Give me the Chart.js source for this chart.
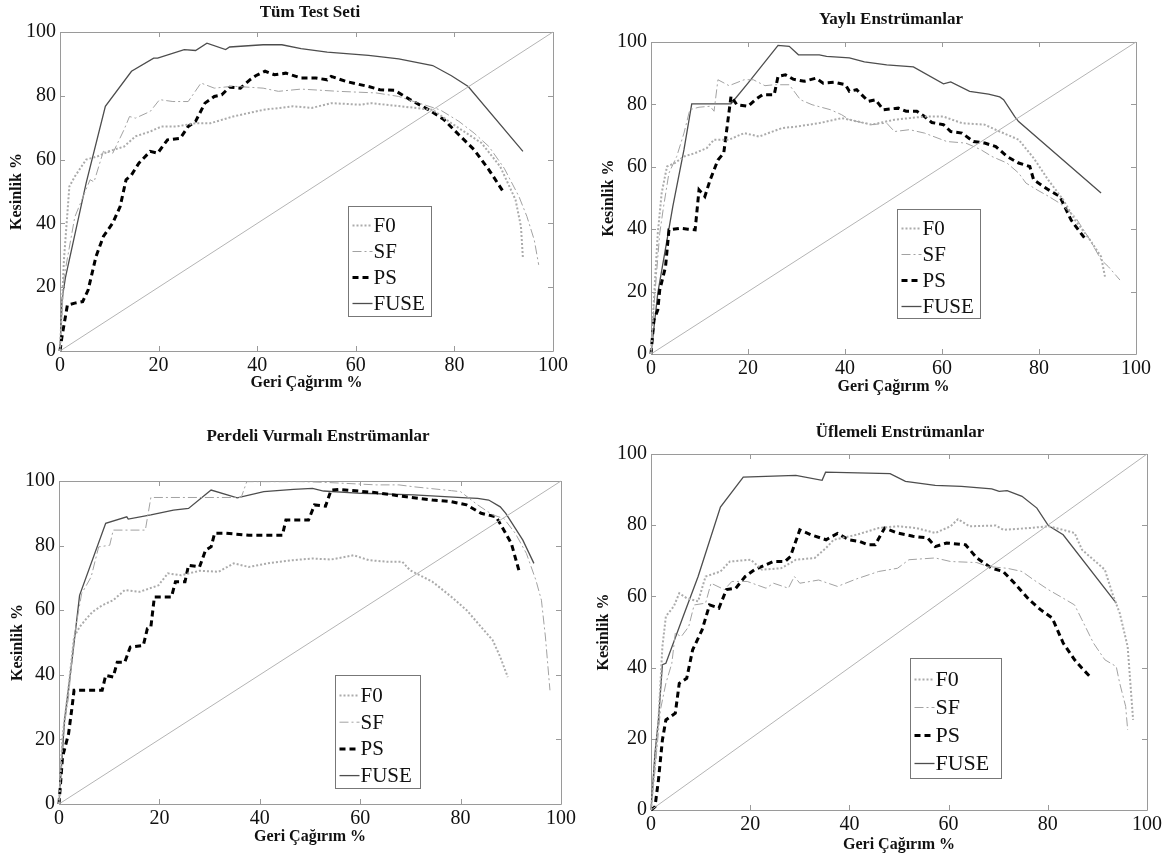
<!DOCTYPE html>
<html>
<head>
<meta charset="utf-8">
<title>Kesinlik / Geri Çağırım</title>
<script src="https://cdn.jsdelivr.net/npm/chart.js@4.4.1/dist/chart.umd.min.js"></script>
<style>
  html, body { margin: 0; padding: 0; background: #fff; }
  #wrap { position: relative; width: 1176px; height: 857px; overflow: hidden; }
  #wrap canvas { position: absolute; left: 0; top: 0; }
</style>
</head>
<body>
<div id="wrap">
  <canvas id="p0" width="1176" height="857"></canvas>
  <canvas id="p1" width="1176" height="857"></canvas>
  <canvas id="p2" width="1176" height="857"></canvas>
  <canvas id="p3" width="1176" height="857"></canvas>
</div>
<script>
// ---- data: [recall %, precision %] ----
const seriesNames = ['F0', 'SF', 'PS', 'FUSE'];
const tickValues = [0, 20, 40, 60, 80, 100];
const panelTitles = ['Tüm Test Seti', 'Yaylı Enstrümanlar', 'Perdeli Vurmalı Enstrümanlar', 'Üflemeli Enstrümanlar'];
const xAxisTitle = 'Geri Çağırım %';
const yAxisTitle = 'Kesinlik %';
const diagonal = [[0, 0], [100, 100]];

const tumF0 = [[0,0],[0.8,28.6],[1.9,51.6],[3,54.7],[5.3,60],[7.6,61],[9.9,62.6],[13,64.1],[15.3,67.3],[18.3,68.8],[20.6,70.4],[23.7,70.4],[27.5,71.4],[30.5,71.4],[35.1,73.5],[41.2,75.6],[47.3,76.7],[51.1,76.2],[55,77.7],[61,77.2],[63,77.7],[68,76.9],[75.6,75.6],[79.4,71.4],[85.5,65.2],[89.3,57.8],[92.4,47.4],[93.5,39],[93.9,29]];
const tumSF = [[0,0],[0.8,23],[3,42],[6.1,53.7],[6.9,53],[8.8,62.6],[10.7,62],[13,69.4],[14.1,73.5],[15.3,73],[18.3,75.1],[20.2,78.8],[22.9,78.2],[26,78.2],[28.6,84],[31.3,82.4],[35.1,83],[41.2,82.4],[44.3,81.4],[48.9,82.1],[56.5,81.4],[64.1,80.9],[68.7,79.8],[71.8,78.2],[77.1,75.6],[80.9,72],[84,68.3],[87,64.1],[90.1,57.3],[93.1,48.4],[94.7,42.2],[96.2,34.8],[97.1,27]];
const tumPS = [[0,0],[0.4,4.5],[1.5,14.4],[3,15],[4.6,15.5],[5.7,19.1],[7.3,29.6],[8.8,35.9],[10.7,40.1],[12.2,45.3],[13.4,53.7],[14.5,55.2],[16,58.9],[18.3,62.6],[19.8,62],[21.8,66.2],[24.4,66.7],[26,70.4],[27.5,72],[29.4,77.7],[31.3,79.8],[32.8,80.3],[34.4,82.7],[36.6,82.4],[38.5,85],[39.7,86.3],[41.6,87.7],[43.5,86.6],[45.8,87.1],[48.9,85.6],[51.9,85.6],[54.2,85],[55,86.1],[58,84.5],[62.6,82.9],[64.9,81.9],[67.9,81.7],[71,78.8],[74.8,75.6],[77.9,72.5],[80.9,67.8],[84,63.1],[87,56.8],[90.1,49.5]];
const tumFUSE = [[0,0],[0.4,16],[1.1,23],[5.3,52.6],[9.2,76.7],[14.5,87.7],[19,91.8],[19.8,91.8],[25.2,94.5],[27.5,94.2],[29.8,96.5],[33.6,94.5],[34.4,95.3],[41.2,96],[45,96],[48.9,94.8],[54.2,93.7],[62.6,92.7],[68.7,91.6],[75.6,89.5],[79.4,86.3],[82.8,82.9],[93.9,62.6]];

const yayliF0 = [[0,0],[0.6,17.3],[1.4,38.7],[2.2,51.6],[3.3,60.1],[4.9,61.2],[6.8,63.3],[9.1,64.4],[11.5,66],[13,68.7],[16.1,68.7],[19.2,70.8],[22.3,69.7],[27,72.4],[30,72.9],[34.7,74],[39.3,75.6],[40.9,75.1],[45.5,73.5],[50.2,75.1],[53.3,75.6],[56.4,76.1],[60.3,76.1],[64.1,74],[68.8,73.5],[71.9,71.3],[75.8,68.7],[78.9,62.8],[81.9,55.8],[85,49.4],[87.4,43],[90.5,36.6],[92.8,31.2],[93.6,24.8]];
const yayliSF = [[0,0],[0.6,15.2],[1.8,38.7],[2.6,47.3],[3.7,58],[5.3,63.3],[6.8,70.8],[8,78.3],[9.9,79.1],[12.2,79.4],[13,77.8],[13.8,87.9],[16.1,86],[19.2,87.9],[21.1,87.9],[23.5,86],[25.4,86.3],[28.5,86.3],[30.8,81.5],[33.2,79.9],[37,78.3],[39.3,76.7],[40.9,75.1],[45.5,73.5],[48.6,74],[50.2,71.3],[53.3,71.9],[56.4,70.8],[61,68.1],[64.9,67.6],[68,65.5],[70.3,63.3],[73.4,61.2],[75.8,58],[77.3,54.8],[79.6,52.6],[82,50.5],[84.3,48.3],[87.4,44.1],[90.5,36.6],[92.8,30.2],[94.3,28],[96.7,23.7]];
const yayliPS = [[0,0],[0.6,10.9],[1.4,14.1],[1.8,20.5],[3,28],[3.7,39.8],[6,40.3],[7.6,40],[9.1,39.8],[9.9,52.6],[11.1,50.5],[12.2,55.8],[13.8,62.2],[15,64.4],[16.5,82.6],[17.7,79.9],[20,79.4],[21.5,81.5],[23,83.1],[25.4,83.1],[26.2,89],[27.7,89.5],[29.3,88.1],[31.6,87.4],[34,88.4],[35.5,86.8],[37.8,87.1],[40.1,86.3],[40.9,84.2],[42.4,84.7],[44.8,81],[46.3,81.5],[47.9,78.3],[51,78.8],[52.6,77.8],[54.8,77.8],[56.4,76.1],[57.9,74.2],[60.3,73.5],[61.8,71.3],[64.1,70.8],[66.5,68.1],[68.8,67.6],[71.1,66.5],[73.4,63.3],[75.8,61.2],[78.1,60.1],[78.9,55.8],[82,52.6],[84.3,50.5],[86.6,43],[88.1,39.8],[89.7,36.6]];
const yayliFUSE = [[0,0],[1.4,19.5],[4.5,47.3],[6.8,65.5],[8.4,80.2],[16.5,80.2],[20,86.8],[26.2,98.9],[28.5,98.6],[30.4,95.9],[34.7,95.9],[36.2,95.4],[40.9,94.9],[44,93.6],[48.6,92.7],[54.1,92],[60.3,86.6],[61.8,87.2],[65.7,84.2],[69.6,83.3],[71.9,82.4],[72.7,81.5],[75,76.1],[75.8,74.5],[92.8,51.6]];

const perdeliF0 = [[0,0],[0.7,20.7],[1.9,36.2],[3,51.7],[4.1,54.8],[5.2,56.9],[6.7,59.5],[8.6,61.5],[10.8,63.1],[13.1,66.2],[16.1,65.7],[19.8,67.7],[21.7,71.4],[24.3,70.8],[28,72.2],[31.8,71.9],[34.8,74.5],[37.8,73.4],[42.3,74.7],[46.7,75.5],[50.5,76],[54.2,75.7],[58.7,77],[61.7,75.5],[65.4,75],[68.4,75],[69.9,72.4],[74.4,68.8],[78.2,64.1],[81.2,60],[84.1,54.8],[86.4,50.7],[87.9,45.5],[89.4,39.3]];
const perdeliSF = [[0,0],[0.7,20.7],[1.9,33.1],[3,51.7],[4.5,65.1],[6.4,70.3],[7.9,79.6],[10.1,80.1],[10.8,84.8],[17.2,84.8],[18.3,94.9],[36.3,94.9],[37.4,99.8],[48.2,99.8],[52.7,99.6],[63.2,98.8],[67.7,98.8],[70.7,98.2],[78.2,97],[80,96.7],[83.4,92.6],[86.4,89.5],[88.6,88.4],[90.9,83.8],[93.1,77.6],[95,69.3],[96.1,63.1],[96.9,51.7],[97.8,35.2]];
const perdeliPS = [[0,0],[0.7,14.5],[1.9,21.7],[2.6,30],[3,35.2],[8.6,35.2],[9.3,39.8],[10.8,39.3],[11.6,43.9],[13.1,43.9],[14.2,48.6],[16.8,49.1],[17.6,54.3],[18.3,54.8],[19,64.1],[22.4,64.1],[23.2,68.8],[25.1,68.8],[25.8,73.9],[28,73.4],[29.2,78.6],[30.3,79.6],[31,83.8],[33.3,83.8],[37.8,83.2],[44.5,83.2],[45.2,87.9],[49.7,87.9],[50.9,92.6],[53.1,92.2],[54.2,97.2],[55.7,97.4],[63.2,96.4],[69.2,95.1],[74.4,94.1],[78.2,93.6],[81.2,92.6],[84.1,90],[87.1,88.9],[88.6,84.8],[90.1,80.7],[91.6,72.4]];
const perdeliFUSE = [[0,0],[1.1,25.9],[2.6,44.5],[4.1,64.6],[9.3,86.9],[13.5,88.9],[13.8,88.2],[18.3,89.5],[22.8,91],[25.8,91.5],[30.3,97.2],[35.5,94.8],[40.8,96.7],[46.7,97.4],[50.5,97.7],[52.7,96.9],[60.2,96.2],[70.7,95.7],[81.2,94.8],[83.4,94.6],[85.6,94.1],[87.9,92],[89,90],[92.4,81.7],[94.6,74.5]];

const uflemeliF0 = [[0,0],[0.8,13.1],[1.5,25.3],[2.3,45.9],[3,54.4],[4.6,57.2],[5.7,60.9],[7.2,59.5],[9.5,58.6],[11,65.6],[14,67],[15.9,69.8],[20.1,70.3],[22.4,67.5],[26.2,67.9],[29.2,70.3],[33,70.8],[35.3,73.6],[36.8,75.9],[41.4,77.3],[45.9,79.2],[49.7,79.7],[53.5,79.2],[57.3,77.8],[60.4,79.7],[61.9,81.7],[64.2,79.7],[69.5,79.9],[71,78.7],[76.3,79.2],[80.1,79.7],[83.1,78.7],[85.4,77.8],[86.9,73.1],[89.2,70.3],[91.5,67.5],[93,60.9],[94.5,55.3],[96.1,45.9],[97.2,25.3]];
const uflemeliSF = [[0,0],[0.8,11.2],[1.9,28.1],[3,35.6],[4.2,41.2],[4.9,49.7],[6.1,48.7],[7.6,51.5],[8.7,57.6],[11,58.1],[12.1,63.7],[14.8,61.9],[16.3,64.2],[19.4,64.2],[23.2,62.3],[24.7,63.7],[27.7,62.3],[28.9,65.6],[30,63.7],[33.8,64.6],[37.6,62.8],[41.4,64.9],[45.9,67],[49.7,67.9],[52,70.3],[57.3,70.8],[60.4,69.8],[65.7,69.5],[67.9,68.4],[71.8,67.9],[74.8,67],[77.1,64.7],[80.1,61.9],[83.1,59.5],[85.4,57.6],[86.9,53.4],[89.2,46.9],[91.5,42.2],[93.8,40.3],[94.5,35.6],[95.7,29.1],[96.1,22.5]];
const uflemeliPS = [[0,0],[0.8,0.9],[1.5,8.4],[2.3,19.7],[3,25.3],[4.9,27.2],[5.7,35.6],[7.2,37],[8.4,45],[10.3,50.6],[11.8,57.6],[13.7,56.7],[15.2,61.9],[17.1,62.3],[19,65.6],[20.9,67.5],[22.4,68.4],[24.7,69.8],[27,69.8],[28.1,71.2],[30,78.7],[32.3,77.3],[35.3,75.9],[37.6,77.7],[39.9,75.9],[42.1,75.4],[43.7,74.5],[45.2,74.5],[47.1,79.2],[49.7,77.8],[52.8,76.9],[55.8,76.4],[57.3,74],[59.6,75],[63.4,74.5],[65.7,70.8],[68.7,67.9],[71,67],[73.3,63.7],[76.3,59],[78.6,56.2],[80.9,53.9],[83.1,46.9],[85.4,42.2],[86.9,39.8],[88.5,37.5]];
const uflemeliFUSE = [[0,0],[0.8,15.9],[1.5,25.3],[2.3,40.8],[3,41.2],[6.5,54.4],[9.5,65.6],[14,85.1],[18.6,93.5],[29.2,94],[34.5,92.6],[35.2,94.9],[48.2,94.5],[51.3,92.3],[57.3,91.2],[62.6,90.9],[68.7,90.2],[70.2,89.5],[71.8,89.7],[74.8,88.1],[77.8,84.8],[80.1,79.9],[83.1,77.3],[93.8,58.1]];

// ---- styling ----
const SERIF = '"Liberation Serif", "DejaVu Serif", serif';
Chart.defaults.font.family = SERIF;

const seriesStyles = [
  { borderColor: '#ababab', borderWidth: 2,   borderDash: [2, 2] },          // F0 dotted
  { borderColor: '#a2a2a2', borderWidth: 1,   borderDash: [9, 3, 2, 3] },    // SF dash-dot
  { borderColor: '#000000', borderWidth: 3,   borderDash: [6, 4] },          // PS dashed
  { borderColor: '#4d4d4d', borderWidth: 1.3, borderDash: [] }               // FUSE solid
];

// page layout of the four panels: chart area box + text anchors
const panels = [
  { id: 'p0', series: [tumF0, tumSF, tumPS, tumFUSE],
    area: { l: 60, t: 32, r: 553, b: 351 }, yTitleX: 17, xTitleY: 383,
    titlePos: [310, 13], legend: { x: 58.4, y: 45.4, w: 83, h: 110, first: 19, gap: 26, size: 21 } },
  { id: 'p1', series: [yayliF0, yayliSF, yayliPS, yayliFUSE],
    area: { l: 651, t: 42, r: 1136, b: 354 }, yTitleX: 609, xTitleY: 387,
    titlePos: [891, 20], legend: { x: 50.8, y: 46.5, w: 83, h: 109, first: 19, gap: 26, size: 21 } },
  { id: 'p2', series: [perdeliF0, perdeliSF, perdeliPS, perdeliFUSE],
    area: { l: 59, t: 481, r: 561, b: 804 }, yTitleX: 18, xTitleY: 837,
    titlePos: [318, 437], legend: { x: 55.0, y: 40.0, w: 85, h: 113, first: 20, gap: 26.7, size: 21 } },
  { id: 'p3', series: [uflemeliF0, uflemeliSF, uflemeliPS, uflemeliFUSE],
    area: { l: 651, t: 454, r: 1147, b: 810 }, yTitleX: 604, xTitleY: 845,
    titlePos: [900, 433], legend: { x: 52.2, y: 42.8, w: 91, h: 120, first: 21, gap: 28, size: 22 } }
];

const TICK_FONT = { family: SERIF, size: 20, lineHeight: 1 };
const AXIS_TITLE_FONT = { family: SERIF, size: 16, weight: 'bold', lineHeight: 1 };

// box, inward tick marks, panel title and legend
const framePlugin = {
  id: 'frame',
  beforeDatasetsDraw(chart, args, opts) {
    const { ctx, chartArea: a, scales: { x, y } } = chart;
    ctx.save();
    ctx.strokeStyle = '#9a9a9a';
    ctx.lineWidth = 1;
    ctx.beginPath();
    ctx.rect(Math.round(a.left) + 0.5, Math.round(a.top) + 0.5,
             Math.round(a.right - a.left), Math.round(a.bottom - a.top));
    tickValues.forEach(v => {
      const px = Math.round(x.getPixelForValue(v)) + 0.5;
      ctx.moveTo(px, a.bottom); ctx.lineTo(px, a.bottom - 5);
      ctx.moveTo(px, a.top); ctx.lineTo(px, a.top + 5);
      const py = Math.round(y.getPixelForValue(v)) + 0.5;
      ctx.moveTo(a.left, py); ctx.lineTo(a.left + 5, py);
      ctx.moveTo(a.right, py); ctx.lineTo(a.right - 5, py);
    });
    ctx.stroke();
    ctx.restore();
  },
  afterDraw(chart, args, opts) {
    const { ctx, scales: { x, y } } = chart;
    ctx.save();
    // panel title
    ctx.fillStyle = '#111';
    ctx.font = 'bold 17px ' + SERIF;
    ctx.textAlign = 'center';
    ctx.textBaseline = 'middle';
    ctx.fillText(opts.title, opts.titlePos[0], opts.titlePos[1]);

    // legend box anchored at a data position
    const lg = opts.legend;
    const bx = Math.round(x.getPixelForValue(lg.x)) + 0.5;
    const by = Math.round(y.getPixelForValue(lg.y)) + 0.5;
    ctx.fillStyle = '#fff';
    ctx.fillRect(bx, by, lg.w, lg.h);
    ctx.strokeStyle = '#777';
    ctx.lineWidth = 1;
    ctx.setLineDash([]);
    ctx.strokeRect(bx, by, lg.w, lg.h);
    ctx.font = lg.size + 'px ' + SERIF;
    ctx.textAlign = 'left';
    seriesNames.forEach((name, i) => {
      const cy = by + lg.first + i * lg.gap;
      const st = seriesStyles[i];
      ctx.beginPath();
      ctx.strokeStyle = st.borderColor;
      ctx.lineWidth = st.borderWidth;
      ctx.setLineDash(st.borderDash);
      ctx.moveTo(bx + 4, cy);
      ctx.lineTo(bx + 24, cy);
      ctx.stroke();
      ctx.fillStyle = '#111';
      ctx.fillText(name, bx + 25, cy + 1);
    });
    ctx.restore();
  }
};

panels.forEach((p, k) => {
  const a = p.area;
  const yBoxLeft = p.yTitleX - AXIS_TITLE_FONT.size / 2;
  const xBoxBottom = p.xTitleY + AXIS_TITLE_FONT.size / 2;
  const yAxisWidth = a.l - yBoxLeft;
  const xAxisHeight = xBoxBottom - a.b;

  const datasets = [{
    label: 'diagonal', data: diagonal, showLine: true,
    borderColor: '#b4b4b4', borderWidth: 1, pointRadius: 0, clip: false
  }];
  p.series.forEach((s, i) => {
    datasets.push(Object.assign({
      label: seriesNames[i], data: s, showLine: true,
      pointRadius: 0, tension: 0, clip: false
    }, seriesStyles[i]));
  });

  new Chart(document.getElementById(p.id), {
    type: 'scatter',
    data: { datasets },
    options: {
      responsive: false,
      animation: false,
      events: [],
      layout: { padding: { left: yBoxLeft, top: a.t, right: 1176 - a.r, bottom: 857 - xBoxBottom } },
      plugins: {
        legend: { display: false },
        tooltip: { enabled: false },
        frame: { title: panelTitles[k], titlePos: p.titlePos, legend: p.legend }
      },
      scales: {
        x: {
          type: 'linear', min: 0, max: 100,
          afterBuildTicks: s => { s.ticks = tickValues.map(v => ({ value: v })); },
          afterFit: s => { s.height = xAxisHeight; },
          grid: { display: false, drawTicks: false },
          border: { display: false },
          ticks: { font: TICK_FONT, color: '#111', padding: 5, maxRotation: 0, autoSkip: false },
          title: { display: true, text: xAxisTitle, font: AXIS_TITLE_FONT, color: '#111', padding: 0 }
        },
        y: {
          type: 'linear', min: 0, max: 100,
          afterBuildTicks: s => { s.ticks = tickValues.map(v => ({ value: v })); },
          afterFit: s => { s.width = yAxisWidth; },
          grid: { display: false, drawTicks: false },
          border: { display: false },
          ticks: { font: TICK_FONT, color: '#111', padding: 4, autoSkip: false },
          title: { display: true, text: yAxisTitle, font: AXIS_TITLE_FONT, color: '#111', padding: 0 }
        }
      }
    },
    plugins: [framePlugin]
  });
});
</script>
</body>
</html>
